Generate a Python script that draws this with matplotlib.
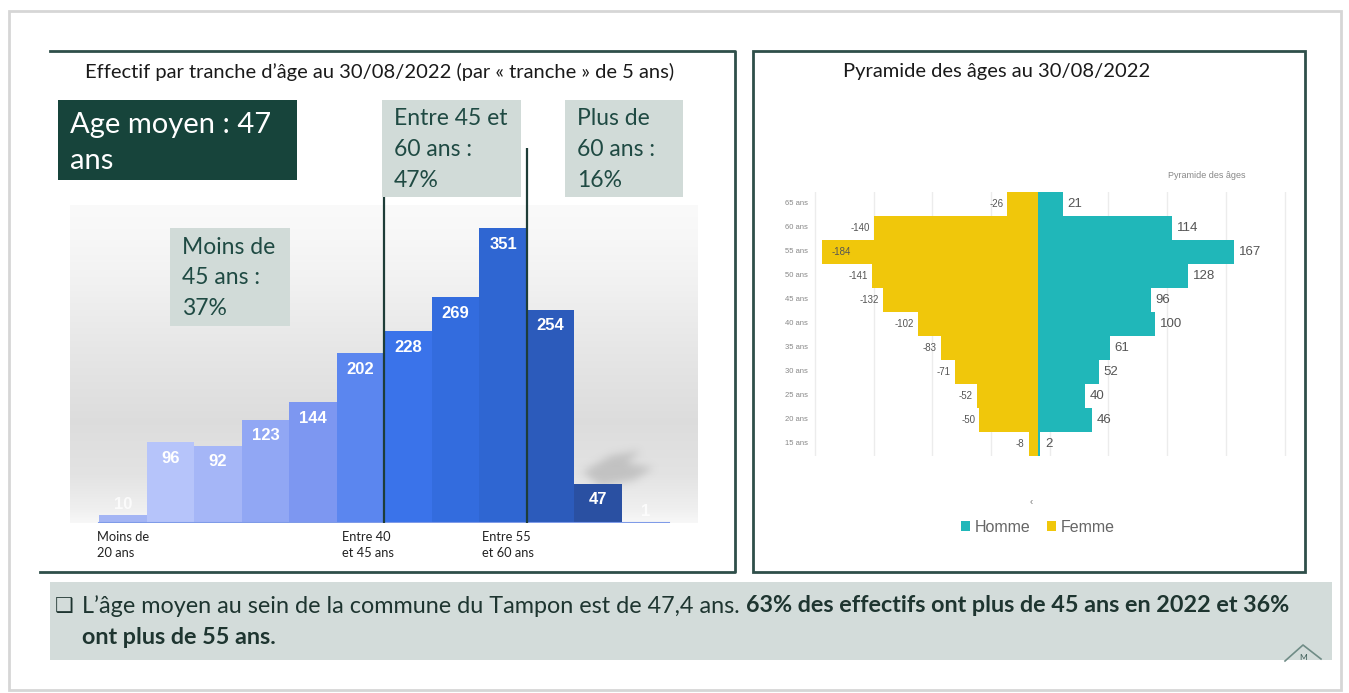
import numpy as np
import matplotlib
matplotlib.use("Agg")
import matplotlib.pyplot as plt
from matplotlib.patches import Rectangle
from matplotlib.path import Path
from matplotlib.transforms import ScaledTranslation

W, H = 1349, 693

# left chart: headcount by 5-year age bracket
tranches = ["<20", "20-25", "25-30", "30-35", "35-40", "40-45",
            "45-50", "50-55", "55-60", "60-65", "65-70", "70+"]
effectifs = [10, 96, 92, 123, 144, 202, 228, 269, 351, 254, 47, 1]
tick_idx = [0, 5, 8]
tick_labels = ["Moins de\n20 ans", "Entre 40\net 45 ans", "Entre 55\net 60 ans"]
bar_colors = ["#a4b5f4", "#b6c4fa", "#a5b6f7", "#91a7f4", "#7d97f1", "#5b86ef",
              "#3a73ea", "#336cde", "#2f66d2", "#2c5bbb", "#2a50a2", "#3a5fb0"]

# right chart: age pyramid (bottom -> top)
ages = ["15 ans", "20 ans", "25 ans", "30 ans", "35 ans", "40 ans",
        "45 ans", "50 ans", "55 ans", "60 ans", "65 ans"]
homme = [2, 46, 40, 52, 61, 100, 96, 128, 167, 114, 21]
femme = [-8, -50, -52, -71, -83, -102, -132, -141, -184, -140, -26]

plt.rcParams['font.family'] = ['Lato', 'DejaVu Sans']
ARIAL = ['Liberation Sans', 'DejaVu Sans']
DARK = "#2f4f4a"
BOXC = "#d1dbd8"
BOXTXT = "#1f4a43"


def box(x0, y0, x1, y1):
    return [x0 / W, 1 - y1 / H, (x1 - x0) / W, (y1 - y0) / H]


fig = plt.figure(figsize=(W / 100, H / 100), dpi=100)

# background layer in pixel coordinates
bg = fig.add_axes([0, 0, 1, 1], zorder=0)
bg.set_xlim(0, W)
bg.set_ylim(H, 0)
bg.axis('off')
bg.add_patch(Rectangle((9, 11), 1332, 679, fill=False, ec="#d6d6d6", lw=2))
# left panel (no left edge)
bg.plot([50, 735, 735, 40], [51, 51, 572, 572], color=DARK, lw=2)
bg.add_patch(Rectangle((753, 51), 552, 521, fill=False, ec=DARK, lw=2))
bg.add_patch(Rectangle((50, 582), 1282, 78, color="#d3dcda", lw=0))

# ---------------- left chart ----------------
ax1 = fig.add_axes(box(70, 205, 698, 523), zorder=1)
px_x = 47.5
px_y = 0.84
x0 = (70 - 123) / px_x
x1 = (698 - 123) / px_x
ytop = (523 - 205) / px_y
ax1.set_xlim(x0, x1)
ax1.set_ylim(0, ytop)
for s in ax1.spines.values():
    s.set_visible(False)
ax1.set_yticks([])

# grey gradient backdrop
fy = np.linspace(1, 0, 200)
lv = np.interp(fy, [0, 0.04, 0.15, 0.32, 0.55, 0.75, 0.9, 1.0],
               [0.97, 0.94, 0.89, 0.865, 0.905, 0.945, 0.97, 0.98])
grad = np.repeat(lv[:, None], 2, axis=1)
ax1.imshow(np.dstack([grad, grad, grad]), extent=[x0, x1, 0, ytop],
           aspect='auto', zorder=0, interpolation='bilinear')

# soft shadow behind the 47 bar
gx, gy = np.meshgrid(np.arange(560, 680), np.arange(435, 505))
poly = Path([(582, 472), (610, 456), (640, 451), (625, 463), (652, 468),
             (632, 480), (600, 486)])
mask = poly.contains_points(np.c_[gx.ravel(), gy.ravel()]).reshape(gx.shape).astype(float)
k = np.exp(-0.5 * (np.arange(-12, 13) / 4.0) ** 2)
k /= k.sum()
mask = np.apply_along_axis(lambda r: np.convolve(r, k, mode='same'), 1, mask)
mask = np.apply_along_axis(lambda c: np.convolve(c, k, mode='same'), 0, mask)
rgba = np.zeros(mask.shape + (4,))
rgba[..., :3] = 0.5
rgba[..., 3] = mask * 0.32
ax1.imshow(rgba, extent=[(560 - 123) / px_x, (680 - 123) / px_x,
                         (523 - 505) / px_y, (523 - 435) / px_y],
           aspect='auto', zorder=1, origin='upper')

x = np.arange(len(effectifs))
ax1.bar(x, effectifs, width=1.0, color=bar_colors, zorder=3, lw=0)
ax1.plot([-0.5, 11.5], [0, 0], color="#7f9be8", lw=1.5, zorder=4)
for i, v in enumerate(effectifs):
    if v * px_y < 30:
        ax1.annotate(str(v), (i, v), xytext=(0, 2), textcoords='offset points',
                     ha='center', va='bottom', color='white', alpha=0.8,
                     fontsize=12, fontweight='bold', family=ARIAL, zorder=5)
    else:
        ax1.annotate(str(v), (i, v), xytext=(0, -11.5), textcoords='offset points',
                     ha='center', va='center', color='white',
                     fontsize=12, fontweight='bold', family=ARIAL, zorder=5)
ax1.vlines([5.5, 8.5], 0, (523 - 148) / px_y, color="#1e3d38", lw=1.6,
           zorder=6, clip_on=False)
ax1.set_xticks(tick_idx)
ax1.set_xticklabels(tick_labels, fontsize=9.3, color="#222222", multialignment='left',
                    linespacing=1.35)
ax1.tick_params(axis='x', length=0, pad=6)
for lab, dx in zip(ax1.get_xticklabels(), [0, 8, 5]):
    lab.set_transform(lab.get_transform() + ScaledTranslation(dx / 100, 0, fig.dpi_scale_trans))

# ---------------- right chart ----------------
ax2 = fig.add_axes(box(803.2, 191.7, 1290.4, 455.6), zorder=1)
ax2.set_xlim(-200, 215)
ax2.set_ylim(-0.5, 10.5)
for s in ax2.spines.values():
    s.set_visible(False)
ax2.set_xticks(np.arange(-190, 211, 50))
ax2.set_xticklabels([])
ax2.set_yticks([])
ax2.tick_params(length=0)
ax2.grid(axis='x', color='#ececec', lw=1)
ax2.set_axisbelow(True)
y = np.arange(len(ages))
ax2.barh(y, homme, height=1.0, color="#20b7b9", label="Homme", lw=0)
ax2.barh(y, femme, height=1.0, color="#f0c70b", label="Femme", lw=0)
for i in y:
    ax2.text(homme[i] + 4, i, str(homme[i]), ha='left', va='center',
             fontsize=9.5, color='#555555', family=ARIAL)
    if femme[i] < -170:
        ax2.text(femme[i] + 8, i, str(femme[i]), ha='left', va='center',
                 fontsize=7, color='#555555', family=ARIAL)
    else:
        ax2.text(femme[i] - 3.5, i, str(femme[i]), ha='right', va='center',
                 fontsize=7, color='#555555', family=ARIAL)
    ax2.text(-196, i, ages[i], ha='right', va='center', fontsize=5.5,
             color='#888888', family=ARIAL)
ax2.legend(loc='center', bbox_to_anchor=(1038 / W, 1 - 527 / H),
           bbox_transform=fig.transFigure, ncol=2, frameon=False,
           prop={'family': ARIAL, 'size': 11.5}, labelcolor='#666666',
           handlelength=0.6, handleheight=0.6, handletextpad=0.3,
           columnspacing=1.0)

# ---------------- overlay: titles, boxes, text ----------------
ov = fig.add_axes([0, 0, 1, 1], zorder=5)
ov.set_xlim(0, W)
ov.set_ylim(H, 0)
ov.axis('off')

ov.text(85, 72, "Effectif par tranche d’âge au 30/08/2022 (par « tranche » de 5 ans)",
        fontsize=14.5, color="#1a1a1a", va='center', ha='left')
ov.text(843, 72, "Pyramide des âges au 30/08/2022", fontsize=14.5, color="#1a1a1a",
        va='center', ha='left')
ov.text(1207, 176, "Pyramide des âges", fontsize=6.5, color="#888888",
        ha='center', va='center', family=ARIAL)
ov.text(1031, 502, "‹", fontsize=7, color="#777777", ha='center', va='center',
        family=ARIAL)

ov.add_patch(Rectangle((58, 100), 239, 80, color="#17443b", lw=0))
ov.text(70, 143, "Age moyen : 47\nans", fontsize=21, color='white', va='center',
        ha='left', linespacing=1.45)

for (bx0, by0, bx1, by1, txt) in [
        (170, 228, 290, 326, "Moins de\n45 ans :\n37%"),
        (382, 100, 521, 197, "Entre 45 et\n60 ans :\n47%"),
        (565, 100, 683, 197, "Plus de\n60 ans :\n16%")]:
    ov.add_patch(Rectangle((bx0, by0), bx1 - bx0, by1 - by0, color=BOXC, lw=0))
    ov.text(bx0 + 12, (by0 + by1) / 2 + 1, txt, fontsize=16.5, color=BOXTXT,
            va='center', ha='left', linespacing=1.58)

# logo roof at bottom right
ov.plot([1285, 1303, 1321], [661, 645, 659], color="#6f8c86", lw=1.2)
ov.text(1303, 657, "M", fontsize=6, color="#3f5f59", ha='center', va='center')

# bottom comment with bold part
TXT = "#1e3530"
FS = 16.8
ov.text(64, 606, "❑", fontsize=15, color=TXT, ha='center', va='center',
        family=['DejaVu Sans'])
t1 = ov.text(82, 606, "L’âge moyen au sein de la commune du Tampon est de 47,4 ans. ",
             fontsize=FS, color=TXT, ha='left', va='center')
fig.canvas.draw()
bb = t1.get_window_extent(fig.canvas.get_renderer())
ov.text(bb.x1, 606, "63% des effectifs ont plus de 45 ans en 2022 et 36%",
        fontsize=FS, color=TXT, ha='left', va='center', fontweight='bold')
ov.text(82, 637, "ont plus de 55 ans.", fontsize=FS, color=TXT, ha='left',
        va='center', fontweight='bold')

fig.savefig("out.png", dpi=100)
